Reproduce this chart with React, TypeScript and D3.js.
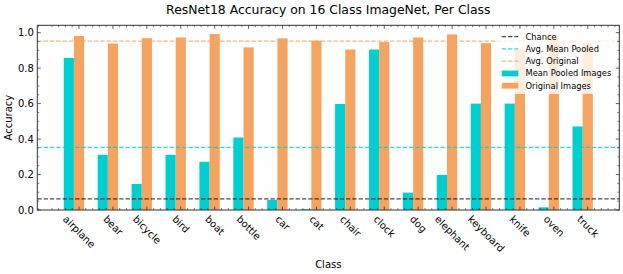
import React from "react";
import * as d3 from "d3";

const categories = ["airplane", "bear", "bicycle", "bird", "boat", "bottle", "car", "cat", "chair", "clock", "dog", "elephant", "keyboard", "knife", "oven", "truck"];
const meanPooled = [0.858, 0.311, 0.147, 0.311, 0.272, 0.409, 0.057, 0.004, 0.598, 0.905, 0.098, 0.198, 0.6, 0.6, 0.015, 0.471];
const original = [0.981, 0.939, 0.969, 0.973, 0.992, 0.917, 0.968, 0.955, 0.905, 0.947, 0.973, 0.99, 0.941, 0.905, 0.985, 0.943];
const chance = 0.0625;
const avgMeanPooled = 0.353;
const avgOriginal = 0.952;
const yTicks = [0, 0.2, 0.4, 0.6, 0.8, 1.0];

const W = 623, H = 274;
const left = 37.3, right = 619.3, top = 25.3, bottom = 210;
const bw = 0.3;
const CYAN = "#00CED1";
const ORANGE = "#F4A460";
const AX = "#333";
const FONT = "DejaVu Sans";

function measure(text: string, size: number) {
  const c = document.createElement("canvas").getContext("2d")!;
  c.font = `${size}px "${FONT}"`;
  return c.measureText(text).width;
}

export default function App() {
  const n = categories.length;
  const dmin = -bw / 2, dmax = n - 1 + 1.5 * bw;
  const m = (dmax - dmin) * 0.05;
  const x = d3.scaleLinear().domain([dmin - m, dmax + m]).range([left, right]);
  const ymax = d3.max(original)! * 1.05;
  const y = d3.scaleLinear().domain([0, ymax]).range([bottom, top]);
  const px = x(1) - x(0);

  const majorX = categories.map((_, i) => i + bw);
  const minorX: number[] = [];
  for (let t = bw - 0.2 * 10; t <= dmax + m; t += 0.2) {
    const v = Math.round(t * 100) / 100;
    if (v >= dmin - m && Math.abs((v - bw) - Math.round(v - bw)) > 0.01) minorX.push(v);
  }
  const minorY: number[] = [];
  for (let k = 0; k * 0.05 <= ymax; k++) if (k % 4 !== 0) minorY.push(k * 0.05);

  const lineH = 11.64;
  const legendItems = [
    { label: "Chance", type: "line", color: "#000", op: 0.7 },
    { label: "Avg. Mean Pooled", type: "line", color: CYAN, op: 0.8 },
    { label: "Avg. Original", type: "line", color: ORANGE, op: 0.8 },
    { label: "Mean Pooled Images", type: "patch", color: CYAN, op: 1 },
    { label: "Original Images", type: "patch", color: ORANGE, op: 1 },
  ];
  const lgX = 497.5, lgY = 29.5, lgW = 117.5, lgH = 64.5;

  return (
    <svg width={W} height={H} style={{ position: "absolute", left: 0, top: 0 }} fontFamily={FONT}>
      <rect width={W} height={H} fill="#fff" />
      {/* bars */}
      {meanPooled.map((v, i) => (
        <rect key={"m" + i} x={x(i - bw / 2)} y={y(v)} width={bw * px} height={y(0) - y(v)} fill={CYAN} />
      ))}
      {original.map((v, i) => (
        <rect key={"o" + i} x={x(i + bw / 2)} y={y(v)} width={bw * px} height={y(0) - y(v)} fill={ORANGE} />
      ))}
      {/* reference lines */}
      <line x1={left} x2={right} y1={y(chance)} y2={y(chance)} stroke="#000" strokeOpacity={0.7} strokeWidth={1.2} strokeDasharray="4.4,1.9" />
      <line x1={left} x2={right} y1={y(avgMeanPooled)} y2={y(avgMeanPooled)} stroke={CYAN} strokeOpacity={0.8} strokeWidth={1.2} strokeDasharray="4.4,1.9" />
      <line x1={left} x2={right} y1={y(avgOriginal)} y2={y(avgOriginal)} stroke={ORANGE} strokeOpacity={0.8} strokeWidth={1.2} strokeDasharray="4.4,1.9" />
      {/* ticks */}
      {majorX.map((t, i) => (
        <g key={"mx" + i}>
          <line x1={x(t)} x2={x(t)} y1={bottom} y2={bottom - 3.5} stroke={AX} strokeWidth={0.8} />
          <line x1={x(t)} x2={x(t)} y1={top} y2={top + 3.5} stroke={AX} strokeWidth={0.8} />
        </g>
      ))}
      {minorX.map((t, i) => (
        <g key={"nx" + i}>
          <line x1={x(t)} x2={x(t)} y1={bottom} y2={bottom - 2} stroke={AX} strokeWidth={0.6} />
          <line x1={x(t)} x2={x(t)} y1={top} y2={top + 2} stroke={AX} strokeWidth={0.6} />
        </g>
      ))}
      {yTicks.map((t, i) => (
        <g key={"my" + i}>
          <line x1={left} x2={left + 3.5} y1={y(t)} y2={y(t)} stroke={AX} strokeWidth={0.8} />
          <line x1={right} x2={right - 3.5} y1={y(t)} y2={y(t)} stroke={AX} strokeWidth={0.8} />
          <text x={left - 3.5} y={y(t)} dy="0.36em" textAnchor="end" fontSize={10} fill="#000">{t.toFixed(1)}</text>
        </g>
      ))}
      {minorY.map((t, i) => (
        <g key={"ny" + i}>
          <line x1={left} x2={left + 2} y1={y(t)} y2={y(t)} stroke={AX} strokeWidth={0.6} />
          <line x1={right} x2={right - 2} y1={y(t)} y2={y(t)} stroke={AX} strokeWidth={0.6} />
        </g>
      ))}
      {/* spines */}
      <rect x={left} y={top} width={right - left} height={bottom - top} fill="none" stroke={AX} strokeWidth={1} />
      {/* x tick labels */}
      {categories.map((c, i) => {
        const L = measure(c, 10);
        const cx = x(majorX[i]);
        const cy = bottom + 3.5 + ((L + lineH) * Math.SQRT1_2) / 2;
        return (
          <text key={"xl" + i} x={cx} y={cy} dy="0.32em" textAnchor="middle" fontSize={10} fill="#000"
            transform={`rotate(45 ${cx} ${cy})`}>{c}</text>
        );
      })}
      {/* axis labels */}
      <text x={(left + right) / 2} y={268} textAnchor="middle" fontSize={10} fill="#000">Class</text>
      <text transform={`translate(11.6 ${(top + bottom) / 2}) rotate(-90)`} textAnchor="middle" fontSize={10} fill="#000">Accuracy</text>
      <text x={(left + right) / 2} y={13.5} textAnchor="middle" fontSize={12.4} fill="#000">ResNet18 Accuracy on 16 Class ImageNet, Per Class</text>
      {/* legend */}
      <rect x={lgX} y={lgY} width={lgW} height={lgH} fill="#fff" fillOpacity={0.8} />
      {legendItems.map((it, i) => {
        const cy = 36.7 + i * 12.25;
        return (
          <g key={"lg" + i}>
            {it.type === "line" ? (
              <line x1={501.7} x2={518.3} y1={cy} y2={cy} stroke={it.color} strokeOpacity={it.op} strokeWidth={1.2} strokeDasharray="4.4,1.9" />
            ) : (
              <rect x={501.7} y={cy - 2.9} width={16.6} height={5.8} fill={it.color} />
            )}
            <text x={525.5} y={cy} dy="0.35em" fontSize={8.3} fill="#000">{it.label}</text>
          </g>
        );
      })}
    </svg>
  );
}
